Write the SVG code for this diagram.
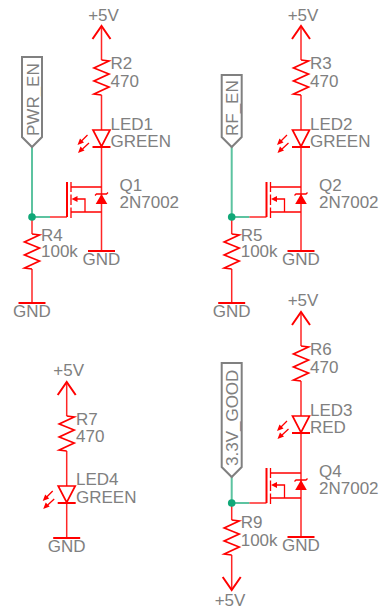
<svg xmlns="http://www.w3.org/2000/svg" width="379" height="609" viewBox="0 0 379 609">
<style>
text{font-family:"Liberation Sans",Arial,sans-serif;font-size:17px;fill:#808080}
.m{text-anchor:middle}
.s{fill:none;stroke:#f00;stroke-width:1.7;stroke-linejoin:miter}
.t{fill:none;stroke:#f00;stroke-width:1.3}
.p{fill:none;stroke:#f00;stroke-width:2}
.w{fill:none;stroke:#f00;stroke-width:1.5;stroke-opacity:.85}
.g{fill:none;stroke:#5cc3a0;stroke-width:2}
.l{fill:#fff;stroke:#808080;stroke-width:2}
.f{fill:#f00;stroke:none}
.d{fill:#10a878}
</style>
<defs>
<g id="pwr"><path class="p" d="M-9 13L0 0L9 13"/></g>
<g id="gnd"><path class="p" d="M-13.5 0H13.5"/></g>
<g id="res"><path class="s" d="M0 0L7.5 1L-7.5 8L7.5 14L-7.5 21L7.5 27L-7.5 34L0 35"/></g>
<g id="led"><path class="s" d="M-8.5 0H8.5L0 16.5Z"/><path class="p" d="M-9 17H9"/><path class="t" d="M-14 5L-20 11M-12.5 13L-19 19"/><path class="f" d="M-24 15L-21.5 8.500L-17.500 12.500ZM-23.500 23L-21 16.500L-17 20.500Z"/></g>
<g id="mos"><path class="p" d="M-34.500 -35V0"/><path class="t" d="M-30.500 -35V-25M-30.500 -22.500V-12M-30.500 -9.500V1"/><path class="t" d="M-30.500 -30H0M-30.500 -5H0M-16.500 -5V-18H-25"/><path class="f" d="M-30 -18L-24 -21V-15Z"/><path class="f" d="M0 -23L5.800 -13H-5.800Z"/><path class="t" d="M-6.500 -21.500L-5 -23H5L6.500 -24.500"/></g>
</defs>
<g id="connectors">
<path class="w" d="M101.500 28V60M101.500 95V130M101.500 147V251M32 217V234M32 269V303"/>
<path class="g" d="M32 147V217H50"/>
<path class="w" d="M50 217H67"/>
<path class="w" d="M301 28V60M301 95V130M301 147V251M231.700 217V234M231.700 269V303"/>
<path class="g" d="M231.700 147V217H249.500"/>
<path class="w" d="M249.500 217H266.500"/>
<path class="w" d="M301 314V346M301 381V416M301 433V537M231.700 503V520M231.700 555V589"/>
<path class="g" d="M231.700 477V503H249.500"/>
<path class="w" d="M249.500 503H266.500"/>
<path class="w" d="M66.700 384V416M66.700 451V486M66.700 503V538"/>
</g>
<g id="junctions">
<circle class="d" cx="32" cy="217" r="3.800"/>
<circle class="d" cx="231.700" cy="217" r="3.800"/>
<circle class="d" cx="231.700" cy="503" r="3.800"/>
</g>
<g id="P1"><use href="#pwr" x="101.500" y="26"/><text class="m" x="103.500" y="21">+5V</text></g>
<g id="R2"><use href="#res" x="101.500" y="60"/><text x="110.500" y="69">R2</text><text x="110.500" y="87">470</text></g>
<g id="LED1"><use href="#led" x="101.500" y="130"/><text x="110.500" y="130">LED1</text><text x="110.500" y="147">GREEN</text></g>
<g id="Q1"><use href="#mos" x="101.500" y="217"/><text x="119.500" y="191">Q1</text><text x="119.500" y="208">2N7002</text></g>
<g id="G1"><use href="#gnd" x="101.500" y="251"/><text class="m" x="101.500" y="265">GND</text></g>
<g id="R4"><use href="#res" x="32" y="234"/><text x="41" y="241">R4</text><text x="41" y="257">100k</text></g>
<g id="G2"><use href="#gnd" x="32" y="303"/><text class="m" x="32" y="317">GND</text></g>
<g id="PWR_EN"><path class="l" d="M22 57H42V137L32 147L22 137Z"/><text transform="translate(38.500 136) rotate(-90)">PWR_EN</text></g>
<g id="P2"><use href="#pwr" x="301" y="26"/><text class="m" x="303" y="21">+5V</text></g>
<g id="R3"><use href="#res" x="301" y="60"/><text x="310" y="69">R3</text><text x="310" y="87">470</text></g>
<g id="LED2"><use href="#led" x="301" y="130"/><text x="310" y="130">LED2</text><text x="310" y="147">GREEN</text></g>
<g id="Q2"><use href="#mos" x="301" y="217"/><text x="319" y="191">Q2</text><text x="319" y="208">2N7002</text></g>
<g id="G3"><use href="#gnd" x="301" y="251"/><text class="m" x="301" y="265">GND</text></g>
<g id="R5"><use href="#res" x="231.700" y="234"/><text x="240.700" y="241">R5</text><text x="240.700" y="257">100k</text></g>
<g id="G4"><use href="#gnd" x="231.700" y="303"/><text class="m" x="231.700" y="317">GND</text></g>
<g id="RF_EN"><path class="l" d="M221.700 75H241.700V137L231.700 147L221.700 137Z"/><text transform="translate(238.200 136) rotate(-90)">RF_EN</text></g>
<g id="P3"><use href="#pwr" x="301" y="312"/><text class="m" x="303" y="306">+5V</text></g>
<g id="R6"><use href="#res" x="301" y="346"/><text x="310" y="355">R6</text><text x="310" y="373">470</text></g>
<g id="LED3"><use href="#led" x="301" y="416"/><text x="310" y="416">LED3</text><text x="310" y="433">RED</text></g>
<g id="Q4"><use href="#mos" x="301" y="503"/><text x="319" y="477">Q4</text><text x="319" y="494">2N7002</text></g>
<g id="G5"><use href="#gnd" x="301" y="537"/><text class="m" x="301" y="551">GND</text></g>
<g id="R9"><use href="#res" x="231.700" y="520"/><text x="240.700" y="528">R9</text><text x="240.700" y="546">100k</text></g>
<g id="P4"><path class="p" d="M222.700 577L231.700 590L240.700 577"/><text class="m" x="230" y="606">+5V</text></g>
<g id="GOOD"><path class="l" d="M221.700 363H241.700V467L231.700 477L221.700 467Z"/><text transform="translate(238.200 466) rotate(-90)">3.3V_GOOD</text></g>
<g id="P5"><use href="#pwr" x="66.700" y="382"/><text class="m" x="68.700" y="376">+5V</text></g>
<g id="R7"><use href="#res" x="66.700" y="416"/><text x="76" y="425">R7</text><text x="76" y="442">470</text></g>
<g id="LED4"><use href="#led" x="66.700" y="486"/><text x="76" y="485">LED4</text><text x="76" y="503">GREEN</text></g>
<g id="G6"><use href="#gnd" x="66.700" y="538"/><text class="m" x="66.700" y="552">GND</text></g>
</svg>
